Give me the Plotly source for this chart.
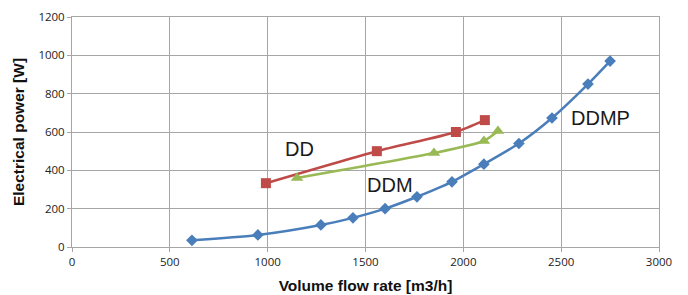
import plotly.graph_objects as go

ddmp_x = [613, 950, 1272, 1436, 1600, 1763, 1942, 2105, 2284, 2453, 2637, 2750]
ddmp_y = [35, 63, 115, 152, 200, 262, 340, 432, 540, 673, 850, 970]
dd_x = [991, 1558, 1962, 2110]
dd_y = [333, 500, 600, 662]
ddm_x = [1150, 1850, 2105, 2177]
ddm_y = [360, 490, 553, 605]

labels = ["DD", "DDM", "DDMP"]
label_x = [1165, 1625, 2700]
label_y = [510, 325, 675]

fig = go.Figure()
fig.add_trace(go.Scatter(x=ddmp_x, y=ddmp_y, mode="lines+markers",
                         line=dict(color="#4a7ebb", width=2.5, shape="spline", smoothing=0.6),
                         marker=dict(symbol="diamond", size=9, color="#4a7ebb")))
fig.add_trace(go.Scatter(x=dd_x, y=dd_y, mode="lines+markers",
                         line=dict(color="#be4b48", width=2.5, shape="spline", smoothing=0.6),
                         marker=dict(symbol="square", size=10, color="#be4b48")))
fig.add_trace(go.Scatter(x=ddm_x, y=ddm_y, mode="lines+markers",
                         line=dict(color="#98b954", width=2.5, shape="spline", smoothing=0.6),
                         marker=dict(symbol="triangle-up", size=11, color="#98b954")))

for t, x, y in zip(labels, label_x, label_y):
    fig.add_annotation(x=x, y=y, text=t, showarrow=False, xanchor="center", yanchor="middle",
                       font=dict(family="Liberation Sans", size=20, color="#1a1a1a"))

axis_common = dict(showgrid=True, gridcolor="#a6a6a6", gridwidth=1, showline=True,
                   linecolor="#a6a6a6", linewidth=1, mirror=True, zeroline=False,
                   ticks="outside", tickcolor="#a6a6a6", ticklen=4, automargin=False,
                   tickfont=dict(family="Open Sans", size=11.5, color="#222222"))

fig.update_xaxes(range=[0, 3000], dtick=500, **axis_common,
                 title=dict(text="<b>Volume flow rate [m3/h]</b>", standoff=12,
                            font=dict(family="Liberation Sans", size=15.5, color="#111111")))
fig.update_yaxes(range=[0, 1200], dtick=200, **axis_common,
                 title=dict(text="<b>Electrical power [W]</b>", standoff=9,
                            font=dict(family="Liberation Sans", size=15.5, color="#111111")))

fig.update_layout(width=680, height=287, showlegend=False,
                  margin=dict(l=64, r=29, t=9, b=48),
                  plot_bgcolor="white", paper_bgcolor="white")

fig.write_html("out.html")
